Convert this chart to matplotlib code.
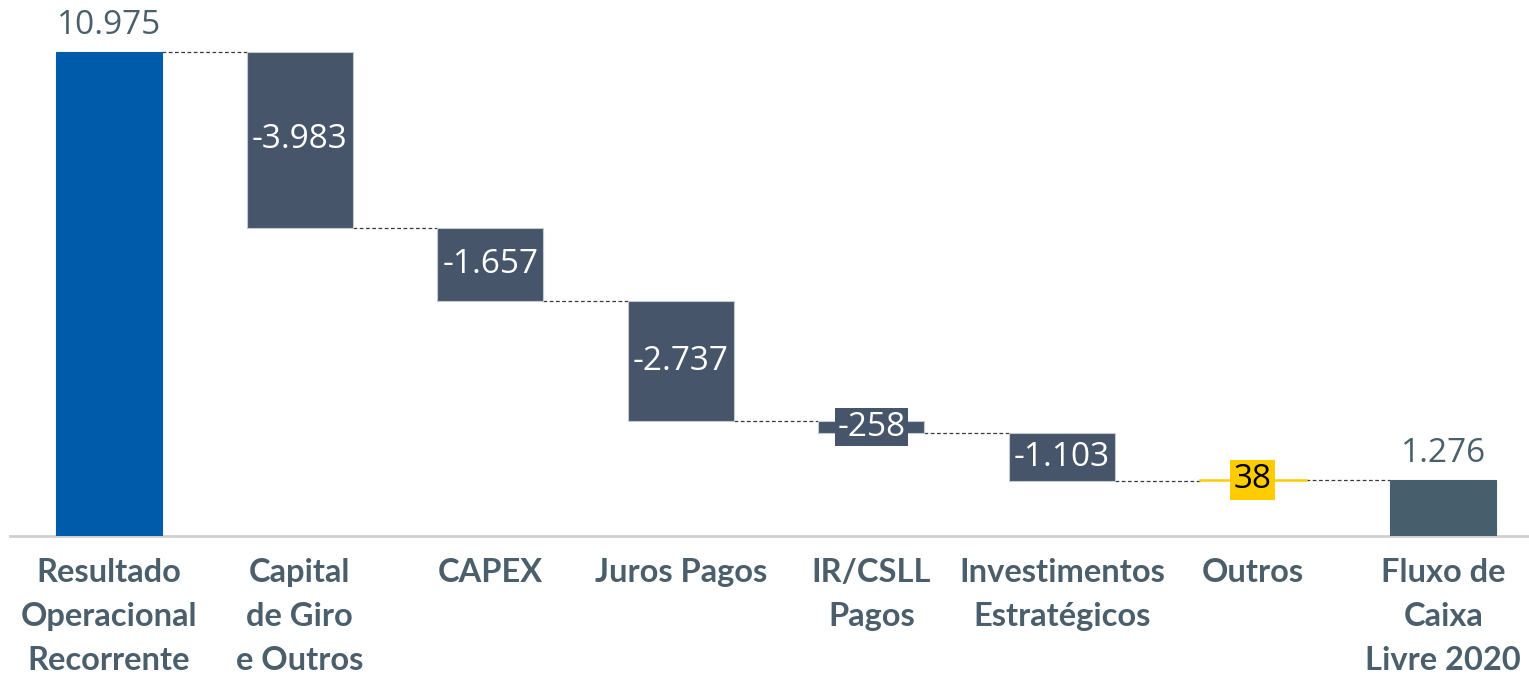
import numpy as np
import matplotlib.pyplot as plt

categories = ["Resultado\nOperacional\nRecorrente", "Capital\nde Giro\ne Outros", "CAPEX",
              "Juros Pagos", "IR/CSLL\nPagos", "Investimentos\nEstratégicos", "Outros",
              "Fluxo de\nCaixa\nLivre 2020"]
values = [10975, -3983, -1657, -2737, -258, -1103, 38, 1276]
is_total = [True, False, False, False, False, False, False, True]

c_first = "#005BAA"
c_neg = "#465569"
c_last = "#475F6D"
c_pos = "#FFCC00"
c_text = "#4A5E6B"


def fmt(v):
    return "{:,}".format(v).replace(",", ".")


fig = plt.figure(figsize=(15.29, 6.78), dpi=100)
ax = fig.add_axes([10 / 1529, 142 / 678, 1519 / 1529, 536 / 678])

n = len(values)
x = np.arange(n)
w = 0.556

bottoms = []
tops = []
level = 0
for i, v in enumerate(values):
    if is_total[i]:
        bottoms.append(0)
        tops.append(v)
        level = v
    else:
        new = level + v
        bottoms.append(min(level, new))
        tops.append(max(level, new))
        level = new
bottoms = np.array(bottoms)
tops = np.array(tops)

for i, v in enumerate(values):
    if i == 0:
        col = c_first
    elif i == n - 1:
        col = c_last
    elif v < 0:
        col = c_neg
    else:
        col = c_pos
    if col == c_pos:
        ax.plot([x[i] - w / 2, x[i] + w / 2], [tops[i], tops[i]], color=c_pos, lw=1.8, zorder=3)
    else:
        ec = "#c5cad2" if col == c_neg else col
        ax.bar(x[i], tops[i] - bottoms[i], bottom=bottoms[i], width=w, color=col,
               edgecolor=ec, linewidth=0.8, zorder=3)

# connector lines
level = 0
for i in range(n - 1):
    if is_total[i]:
        level = values[i]
    else:
        level = level + values[i]
    ax.plot([x[i] + w / 2, x[i + 1] - w / 2], [level, level], color="#3a3a3a",
            lw=0.9, ls=(0, (3, 2)), zorder=2)

# value labels
for i, v in enumerate(values):
    if is_total[i]:
        ax.text(x[i], tops[i] + 230, fmt(v), ha="center", va="bottom", fontsize=24,
                color=c_text, family="Open Sans")
    elif v < 0:
        ax.text(x[i], (tops[i] + bottoms[i]) / 2, fmt(v), ha="center", va="center",
                fontsize=24, color="white", family="Open Sans", zorder=4,
                bbox=dict(boxstyle="square,pad=0.08", fc=c_neg, ec="none"))
    else:
        ax.text(x[i], tops[i], fmt(v), ha="center", va="center", fontsize=24,
                color="black", family="Open Sans", zorder=4,
                bbox=dict(boxstyle="square,pad=0.1", fc=c_pos, ec="none"))

ax.set_xlim(-0.519, 7.45)
ax.set_ylim(0, 12154)
ax.set_xticks(x)
ax.set_xticklabels(categories, fontsize=23.5, fontweight="bold", color=c_text,
                   family="Lato", linespacing=1.63, va="top")
ax.tick_params(axis="x", length=0, pad=16)
ax.set_yticks([])
for s in ["top", "right", "left"]:
    ax.spines[s].set_visible(False)
ax.spines["bottom"].set_color("#D0D0D0")
ax.spines["bottom"].set_linewidth(2)

fig.savefig("out.png", dpi=100)
